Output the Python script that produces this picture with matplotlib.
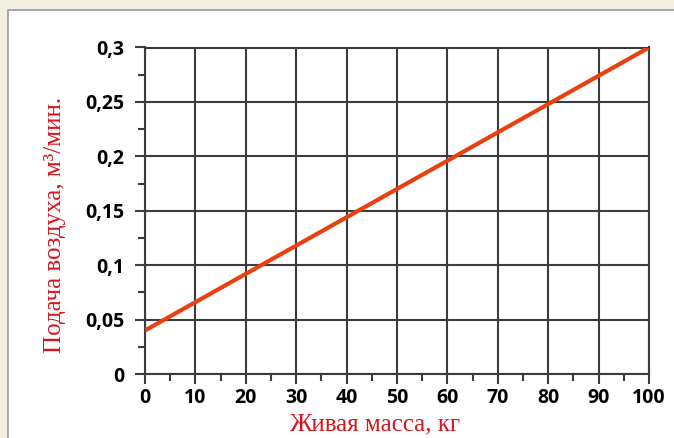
import matplotlib as mpl
mpl.use('Agg')
import matplotlib.pyplot as plt
from matplotlib.patches import Rectangle
from matplotlib.ticker import MultipleLocator, FuncFormatter

# live mass, kg -> air supply, m3/min
mass = [0, 100]
air_supply = [0.04, 0.30]

x_ticks = [0, 10, 20, 30, 40, 50, 60, 70, 80, 90, 100]
y_ticks = [0, 0.05, 0.1, 0.15, 0.2, 0.25, 0.3]

grid_color = '#3c3c3c'
line_color = '#e8400f'
label_color = '#d8141c'

fig = plt.figure(figsize=(6.74, 4.38), dpi=100)
fig.patch.set_facecolor('#f2eee1')

# white panel with grey border
panel = Rectangle((8 / 674, -0.01), 1.0, (438 - 10) / 438 + 0.01,
                  transform=fig.transFigure, facecolor='white',
                  edgecolor='#9a9a9a', linewidth=1.2, zorder=-5)
fig.patches.append(panel)

ax = fig.add_axes([145 / 674, (438 - 374) / 438, (649 - 145) / 674, (374 - 47.5) / 438])
ax.set_zorder(2)
ax.set_facecolor('white')

ax.plot(mass, air_supply, color=line_color, linewidth=3, solid_capstyle='butt', zorder=3)

ax.set_xlim(0, 100)
ax.set_ylim(0, 0.3)
ax.set_xticks(x_ticks)
ax.set_yticks(y_ticks)
ax.xaxis.set_minor_locator(MultipleLocator(5))
ax.yaxis.set_minor_locator(MultipleLocator(0.025))

def comma_fmt(v, pos):
    s = ('%.2f' % v).rstrip('0').rstrip('.')
    return s.replace('.', ',')

ax.yaxis.set_major_formatter(FuncFormatter(comma_fmt))

ax.grid(True, which='major', color=grid_color, linewidth=1.5)
for sp in ax.spines.values():
    sp.set_color(grid_color)
    sp.set_linewidth(1.5)

ax.tick_params(which='major', direction='out', length=7, width=1.5, color=grid_color)
ax.tick_params(which='minor', direction='out', length=5, width=1.5, color=grid_color)
ax.tick_params(axis='x', which='major', pad=3)
ax.tick_params(axis='y', which='major', pad=8)

for lab in ax.get_xticklabels() + ax.get_yticklabels():
    lab.set_family('Open Sans')
    lab.set_fontweight('bold')
    lab.set_fontsize(14)
    lab.set_color('black')

ax.set_xlabel('Живая масса, кг', family='Liberation Serif', fontsize=18,
              color=label_color)
ax.xaxis.set_label_coords(0.456, -0.122)
ax.set_ylabel('Подача воздуха, м³/мин.', family='Liberation Serif', fontsize=18,
              color=label_color)
ax.yaxis.set_label_coords(-0.157, 0.456)

fig.savefig('out.png', dpi=100, facecolor=fig.get_facecolor())
